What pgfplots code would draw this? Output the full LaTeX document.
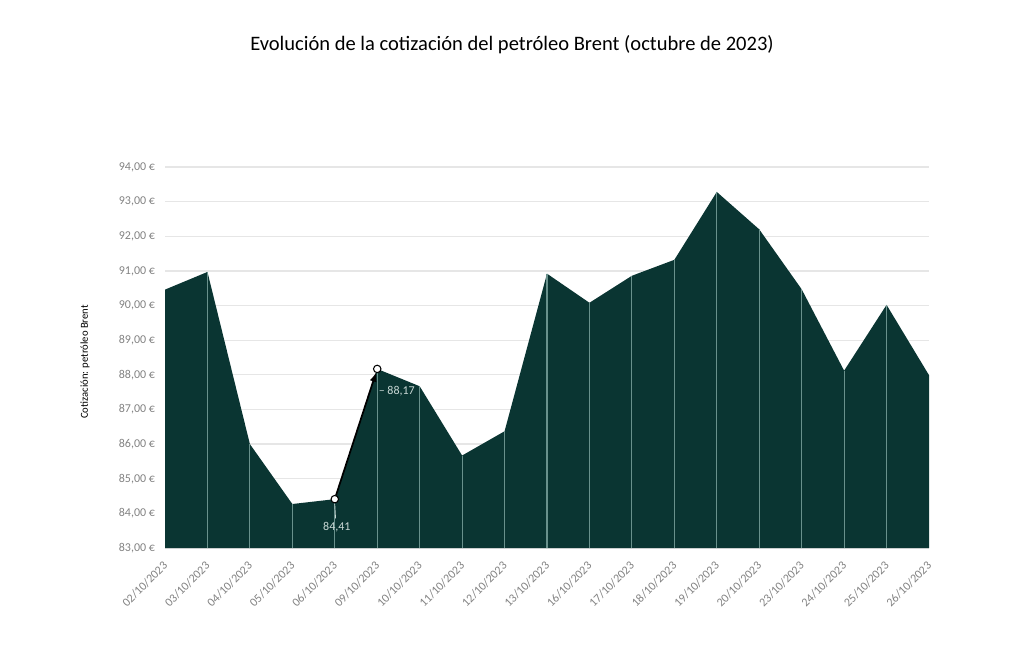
\documentclass[border=0pt]{standalone}
\usepackage{pgfplots}
\pgfplotsset{compat=1.18}
\usepackage{fontspec}
\setmainfont{Carlito}
\definecolor{areafill}{RGB}{10,53,50}
\definecolor{vline}{RGB}{105,145,140}
\definecolor{gridc}{RGB}{230,230,230}
\definecolor{tickc}{RGB}{130,130,130}
\definecolor{annot}{RGB}{200,215,212}
\begin{document}
\begin{tikzpicture}
\path[use as bounding box] (0pt,0pt) rectangle (768pt,498.75pt);
\node[font=\fontsize{15.4}{17}\selectfont] at (384pt,465pt) {Evolución de la cotización del petróleo Brent (octubre de 2023)};
\node[rotate=90,font=\fontsize{8}{9}\selectfont] at (63.75pt,227.25pt) {Cotización: petróleo Brent};
\begin{axis}[
  at={(123.75pt,87.75pt)}, anchor=south west,
  scale only axis, width=573pt, height=285.75pt,
  xmin=0, xmax=18, ymin=83, ymax=94,
  xtick={0,...,18},
  xticklabels={02/10/2023,03/10/2023,04/10/2023,05/10/2023,06/10/2023,09/10/2023,10/10/2023,11/10/2023,12/10/2023,13/10/2023,16/10/2023,17/10/2023,18/10/2023,19/10/2023,20/10/2023,23/10/2023,24/10/2023,25/10/2023,26/10/2023},
  ytick={83,...,94},
  yticklabel={\pgfmathprintnumber[fixed,fixed zerofill,precision=2,use comma]{\tick}~€},
  /pgf/number format/assume math mode=true,
  ymajorgrids, grid style={gridc, line width=0.9pt},
  axis line style={draw=none},
  major tick length=0pt,
  ticklabel style={font=\fontsize{9}{10}\selectfont, text=tickc},
  xticklabel style={rotate=45, anchor=north east, inner sep=1pt, xshift=-7pt, yshift=-4pt},
  yticklabel style={anchor=east, xshift=-4pt},
]
\addplot[fill=areafill, draw=none] coordinates {
(0,90.46) (1,90.97) (2,86.00) (3,84.27) (4,84.41) (5,88.17) (6,87.67) (7,85.67) (8,86.37) (9,90.92) (10,90.08) (11,90.86) (12,91.32) (13,93.28) (14,92.20) (15,90.47) (16,88.12) (17,90.02) (18,87.99)
} \closedcycle;
\addplot[ycomb, vline, line width=0.9pt, mark=none] coordinates {
(1,90.97) (2,86.00) (3,84.27) (4,84.41) (5,88.17) (6,87.67) (7,85.67) (8,86.37) (9,90.92) (10,90.08) (11,90.86) (12,91.32) (13,93.28) (14,92.20) (15,90.47) (16,88.12) (17,90.02)
};
\addplot[black, line width=1.3pt, -latex, shorten >=3pt, shorten <=3pt] coordinates {(4,84.41) (5,88.17)};
\addplot[only marks, mark=*, mark size=2.8pt, mark options={fill=white, draw=black, line width=0.8pt}] coordinates {(4,84.41) (5,88.17)};
\draw[annot, line width=0.5pt] (axis cs:4,84.28) -- (axis cs:4.02,83.85);
\node[text=annot, font=\fontsize{9}{10}\selectfont] at (axis cs:4.05,83.61) {84,41};
\node[text=annot, font=\fontsize{9}{10}\selectfont, anchor=west, inner sep=0pt] at (axis cs:5.03,87.52) {\textendash\ 88,17};
\end{axis}
\end{tikzpicture}
\end{document}
